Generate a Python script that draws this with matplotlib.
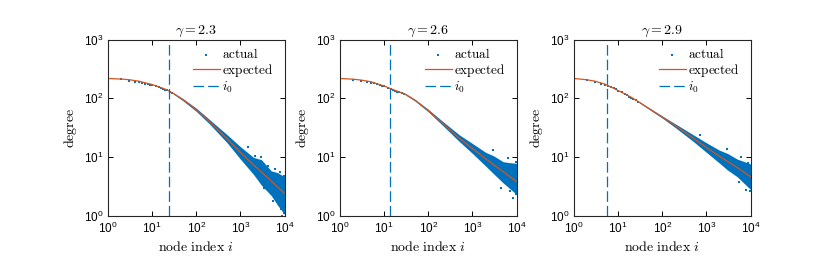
import math
import matplotlib
matplotlib.use('Agg')
import matplotlib.pyplot as plt
from matplotlib.ticker import FixedLocator, FuncFormatter, NullLocator

# tick labels in a Helvetica-like font, the rest in computer modern
plt.rcParams['font.family'] = 'Liberation Sans'
plt.rcParams['mathtext.fontset'] = 'custom'
plt.rcParams['mathtext.rm'] = 'Liberation Sans'
plt.rcParams['mathtext.it'] = 'Liberation Sans:italic'
plt.rcParams['mathtext.bf'] = 'Liberation Sans:bold'

blue = '#0072BD'
orange = '#D95319'

gammas = ['2.3', '2.6', '2.9']
i0_vals = [24, 13.7, 5.5]

# expected degree curve
exp_idx = [1, 2, 3, 5, 10, 20, 30, 50, 100, 200, 500, 1000, 2000, 5000, 10000]
exp_23 = [218, 213, 208, 196, 172, 143, 122, 95, 64, 40, 20.5, 12, 7.3, 3.9, 2.4]
exp_26 = [218, 212, 205, 192, 162, 132, 118, 93, 62, 39, 21, 14, 9.3, 5.6, 3.8]
exp_29 = [218, 207, 196, 175, 136, 104, 86, 67, 48, 34, 21, 14.5, 10.2, 6.6, 4.6]

# actual degrees of the first nodes
head_idx = [1, 2, 3, 4, 5, 6, 7, 8, 9, 10, 12, 14, 16, 18, 20, 22, 25, 28]
head_23 = [217, 211, 198, 192, 187, 183, 178, 174, 171, 169, 160, 155, 148, 146, 140, 137, 129, 124]
head_26 = [218, 206, 199, 191, 186, 180, 176, 170, 165, 160, 152, 145, 139, 134, 130, 127, 121, 118]
head_29 = [218, 203, 190, 179, 171, 163, 156, 148, 142, 135, 127, 118, 113, 106, 103, 99, 93, 88]

# spread of the actual degrees in the tail (lower / upper edge of the dense band)
band_idx = [30, 50, 100, 200, 500, 1000, 2000, 3000, 5000, 7000, 10000]
lo_23 = [119, 91, 60, 36.5, 17.5, 9.2, 5.0, 3.3, 2.2, 1.5, 1.05]
hi_23 = [125, 99, 68, 43.5, 24, 15, 9.8, 9.0, 5.8, 5.4, 4.6]
lo_26 = [115, 90, 59, 36, 18.5, 11.5, 7.0, 5.2, 3.6, 2.9, 2.3]
hi_26 = [121, 96, 65, 42, 24, 17, 12, 10.5, 8.3, 8.0, 7.8]
lo_29 = [84, 65, 46, 31.5, 18.5, 12, 7.8, 6.0, 4.6, 3.6, 2.8]
hi_29 = [88, 69, 50, 36.5, 24, 17.5, 13, 11.5, 9.2, 8.4, 7.6]

# stray points outside the band
out_idx_23 = [1500, 2200, 3000, 4200, 6000, 7500, 8500, 9000, 9600, 9900, 3500, 5500, 8000]
out_deg_23 = [15, 10.5, 9.8, 7, 6.3, 1.5, 1.3, 1.0, 1.1, 4.8, 3.0, 1.8, 5.5]
out_idx_26 = [8400, 3000, 6500, 9500, 4500, 7000, 9800]
out_deg_26 = [1.97, 13, 9.5, 8.2, 3.0, 2.6, 2.3]
out_idx_29 = [8000, 9500, 3000, 6000, 9000, 5500, 700]
out_deg_29 = [2.7, 2.6, 13.5, 10, 8, 3.8, 24]

expected = [exp_23, exp_26, exp_29]
heads = [head_23, head_26, head_29]
los = [lo_23, lo_26, lo_29]
his = [hi_23, hi_26, hi_29]
out_idx = [out_idx_23, out_idx_26, out_idx_29]
out_deg = [out_deg_23, out_deg_26, out_deg_29]

fig = plt.figure(figsize=(8.3, 2.66), dpi=100)
lefts = [108 / 830, 340 / 830, 574 / 830]
W = 176.5 / 830
B = (266 - 215.6) / 266
H = (215.6 - 39.7) / 266

fmt = FuncFormatter(lambda v, p: r'$\mathrm{10^{%d}}$' % round(math.log10(v)))

for k in range(3):
    ax = fig.add_axes([lefts[k], B, W, H])
    ax.set_xscale('log')
    ax.set_yscale('log')

    ax.fill_between(band_idx, los[k], his[k], color=blue, lw=0)
    ax.scatter(head_idx, heads[k], s=3, color=blue, marker='s', lw=0, label=r'$\mathrm{actual}$')
    ax.scatter(out_idx[k], out_deg[k], s=3, color=blue, marker='s', lw=0)
    ax.plot(exp_idx, expected[k], color=orange, lw=0.9, label=r'$\mathrm{expected}$')
    ax.axvline(i0_vals[k], color=blue, lw=0.9, linestyle=(0, (8.5, 3.2)), label='$i_0$')

    ax.set_xlim(1, 1e4)
    ax.set_ylim(1, 1e3)
    ax.xaxis.set_major_locator(FixedLocator([1, 10, 100, 1000, 10000]))
    ax.yaxis.set_major_locator(FixedLocator([1, 10, 100, 1000]))
    ax.xaxis.set_minor_locator(NullLocator())
    ax.yaxis.set_minor_locator(NullLocator())
    ax.xaxis.set_major_formatter(fmt)
    ax.yaxis.set_major_formatter(fmt)
    ax.tick_params(direction='in', top=True, right=True, length=3.5, width=0.7,
                   labelsize=8.5, pad=3.5)
    for sp in ax.spines.values():
        sp.set_linewidth(0.8)
        sp.set_color('#262626')

    ax.set_title(r'$\gamma = %s$' % gammas[k], fontsize=10, pad=4, math_fontfamily='cm')
    ax.set_xlabel(r'$\mathrm{node\ index}\ i$', fontsize=10, labelpad=3, math_fontfamily='cm')
    ax.set_ylabel(r'$\mathrm{degree}$', fontsize=10, labelpad=3, math_fontfamily='cm')

    leg = ax.legend(loc='upper right', bbox_to_anchor=(1.0, 1.02), frameon=False,
                    fontsize=9.5, scatterpoints=1,
                    handlelength=2.1, handletextpad=0.1, labelspacing=0.05,
                    borderpad=0.1, borderaxespad=0.75)
    for t in leg.get_texts():
        t.set_math_fontfamily('cm')

fig.savefig('out.png', dpi=100)
